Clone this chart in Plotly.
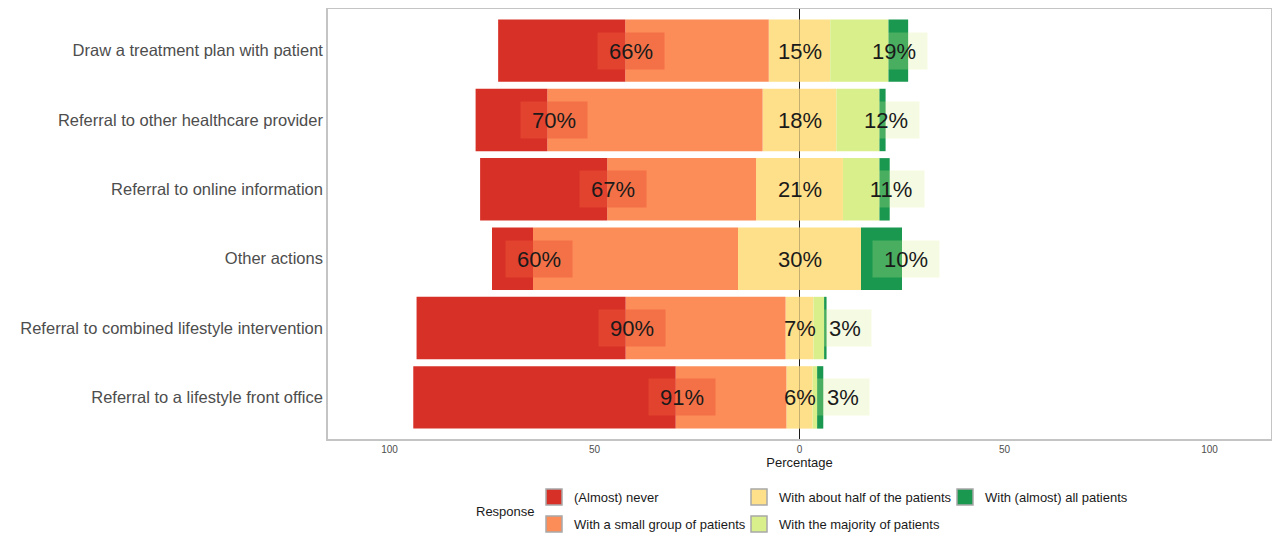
import plotly.graph_objects as go

# survey rows, top to bottom
actions = [
    "Draw a treatment plan with patient",
    "Referral to other healthcare provider",
    "Referral to online information",
    "Other actions",
    "Referral to combined lifestyle intervention",
    "Referral to a lifestyle front office",
]

# percentage of respondents per answer level
never = [31, 17.5, 31, 10, 51, 64]
small_group = [35, 52.5, 36.3, 50, 39, 27]
about_half = [15, 18, 21.2, 30, 6.8, 6.4]
majority = [14.2, 10.5, 8.9, 0, 2.6, 1.1]
almost_all = [4.8, 1.5, 2.5, 10, 0.6, 1.5]

levels = ["(Almost) never", "With a small group of patients", "With about half of the patients",
          "With the majority of patients", "With (almost) all patients"]
colors = ["#d73027", "#fc8d59", "#fee08b", "#d9ef8b", "#1a9850"]

x_ticks = [-100, -50, 0, 50, 100]

FONT = "Liberation Sans, Arial, sans-serif"
OFF = 8  # page body margin
L, R, T, B = 320, 1, 1, 101
W, H = 1264, 532
PW, PH = W - L - R, H - T - B

fig = go.Figure()

half_left = [-v / 2 for v in about_half]
half_right = [v / 2 for v in about_half]

# negative side stacks outward from zero in trace order
bar_specs = [
    (half_left, colors[2]),
    ([-v for v in small_group], colors[1]),
    ([-v for v in never], colors[0]),
    (half_right, colors[2]),
    (majority, colors[3]),
    (almost_all, colors[4]),
]
for vals, col in bar_specs:
    fig.add_trace(go.Bar(
        y=actions, x=vals, orientation="h",
        marker=dict(color=col, line=dict(width=0)),
        showlegend=False, hoverinfo="skip",
    ))

# legend entries, one legend per key so they sit in ggplot-like columns
legend_names = ["legend", "legend2", "legend3", "legend4", "legend5"]
for name, col, lg in zip(levels, colors, legend_names):
    fig.add_trace(go.Scatter(
        x=[None], y=[None], mode="markers", name=name, legend=lg,
        marker=dict(symbol="square", size=16, color=col,
                    line=dict(color="#a8a8a8", width=1.5)),
    ))


def px_x(px):
    return (px - OFF - L) / PW


def px_y(py):
    return (OFF + H - B - py) / PH


legend_pos = [(534, 497), (534, 524), (739, 497), (739, 524), (945, 497)]
legend_layout = {}
for lg, (lx, ly) in zip(legend_names, legend_pos):
    legend_layout[lg] = dict(
        x=px_x(lx), y=px_y(ly), xanchor="left", yanchor="middle",
        bgcolor="rgba(0,0,0,0)", borderwidth=0,
        font=dict(family=FONT, size=13, color="#1a1a1a"),
    )

annotations = []
for i, act in enumerate(actions):
    left = never[i] + small_group[i]
    right = majority[i] + almost_all[i]
    mid = about_half[i]
    items = [
        (-(mid / 2 + small_group[i]) + 1.5, left, "rgba(235,85,55,0.5)"),
        (0, mid, "rgba(0,0,0,0)"),
        (mid / 2 + right / 2 + 6, right, "rgba(217,239,139,0.25)"),
    ]
    for xpos, val, bg in items:
        txt = f"{round(val)}%"
        annotations.append(dict(
            x=xpos, y=act, xref="x", yref="y", text=txt, showarrow=False,
            font=dict(family=FONT, size=22, color="#1a1a1a"),
            bgcolor=bg, width=14 * len(txt) + 22, height=34,
        ))

annotations.append(dict(
    x=px_x(537), y=px_y(511), xref="paper", yref="paper", text="Response",
    showarrow=False, xanchor="right", yanchor="middle",
    font=dict(family=FONT, size=13, color="#1a1a1a"),
))

fig.update_layout(
    width=W, height=H,
    margin=dict(l=L, r=R, t=T, b=B, autoexpand=False),
    barmode="relative", bargap=0.1,
    plot_bgcolor="white", paper_bgcolor="white",
    font=dict(family=FONT),
    annotations=annotations,
    **legend_layout,
)

fig.update_xaxes(
    range=[-115, 115],
    tickvals=x_ticks, ticktext=[str(abs(v)) for v in x_ticks],
    tickfont=dict(size=10, color="#4d4d4d"),
    ticks="",
    showgrid=True, gridcolor="white",
    zeroline=True, zerolinecolor="#1a1a1a", zerolinewidth=1,
    showline=True, mirror=True, linecolor="#c4c4c4", linewidth=1.5,
    title=dict(text="Percentage", font=dict(size=13, color="#1a1a1a"), standoff=4),
)
fig.update_yaxes(
    categoryorder="array", categoryarray=actions,
    range=[5.6, -0.6],
    tickfont=dict(size=16.5, color="#4d4d4d"),
    ticks="",
    showgrid=False,
    showline=True, mirror=True, linecolor="#c4c4c4", linewidth=1.5,
)

fig.write_html("out.html")
